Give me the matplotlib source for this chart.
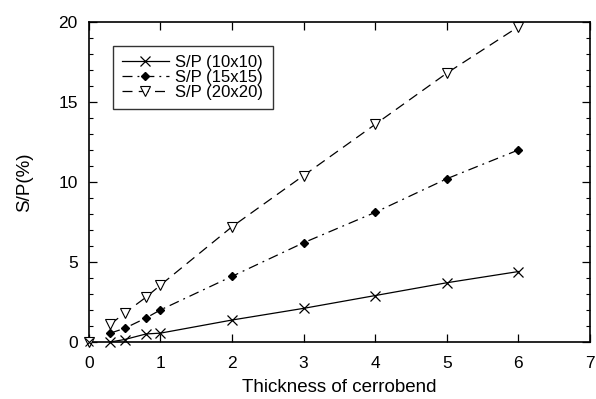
import matplotlib
matplotlib.use("Agg")
import matplotlib.pyplot as plt
from matplotlib.ticker import MultipleLocator

plt.rcParams['font.family'] = ['Liberation Sans', 'DejaVu Sans']

thickness = [0.3, 0.5, 0.8, 1, 2, 3, 4, 5, 6]
sp_10x10 = [0.0, 0.15, 0.5, 0.55, 1.37, 2.1, 2.9, 3.7, 4.4]
sp_15x15 = [0.55, 0.85, 1.5, 2.0, 4.1, 6.2, 8.1, 10.2, 12.0]
sp_20x20 = [1.1, 1.8, 2.8, 3.55, 7.2, 10.4, 13.6, 16.8, 19.7]
open_x = [0]
open_y = [0]

fig = plt.figure(figsize=(5.96, 3.99), dpi=100)
ax = fig.add_axes([0.149, 0.143, 0.841, 0.802])

ax.plot(thickness, sp_10x10, color='black', lw=0.9, ls='-', marker='x',
        ms=7, mew=0.9, label='S/P (10x10)', clip_on=False)
ax.plot(thickness, sp_15x15, color='black', lw=0.9, ls=(0, (8, 4, 1.5, 4)),
        marker='D', ms=4.5, mfc='black', label='S/P (15x15)')
ax.plot(thickness, sp_20x20, color='black', lw=0.9, ls=(0, (8, 5)),
        marker='v', ms=7, mfc='white', mew=0.8, label='S/P (20x20)', clip_on=False)
ax.plot(open_x, open_y, ls='none', marker='v', ms=7, mfc='white', mec='black',
        mew=0.8, clip_on=False, zorder=5)
ax.plot(open_x, open_y, ls='none', marker='x', ms=6, mec='black', mew=0.8,
        clip_on=False, zorder=5)

ax.set_xlim(0, 7)
ax.set_ylim(0, 20)
ax.xaxis.set_major_locator(MultipleLocator(1))
ax.yaxis.set_major_locator(MultipleLocator(5))
ax.yaxis.set_minor_locator(MultipleLocator(1))
ax.tick_params(which='both', direction='in', top=True, right=True, labelsize=12.5)
ax.tick_params(which='major', length=6, width=0.9)
ax.tick_params(which='minor', length=3, width=0.8)
ax.tick_params(axis='x', which='major', pad=10)
ax.tick_params(axis='y', which='major', pad=8)
for s in ax.spines.values():
    s.set_linewidth(1.2)

ax.set_xlabel('Thickness of cerrobend', fontsize=13.5, labelpad=6)
ax.set_ylabel('S/P(%)', fontsize=13.5, labelpad=18)

leg = ax.legend(loc='upper left', bbox_to_anchor=(0.048, 0.925), borderaxespad=0,
                fontsize=12, frameon=True, fancybox=False, edgecolor='black',
                handlelength=2.8, borderpad=0.55, labelspacing=0.0, handletextpad=0.4)
leg.get_frame().set_linewidth(1.0)

fig.savefig('out.png', dpi=100)
